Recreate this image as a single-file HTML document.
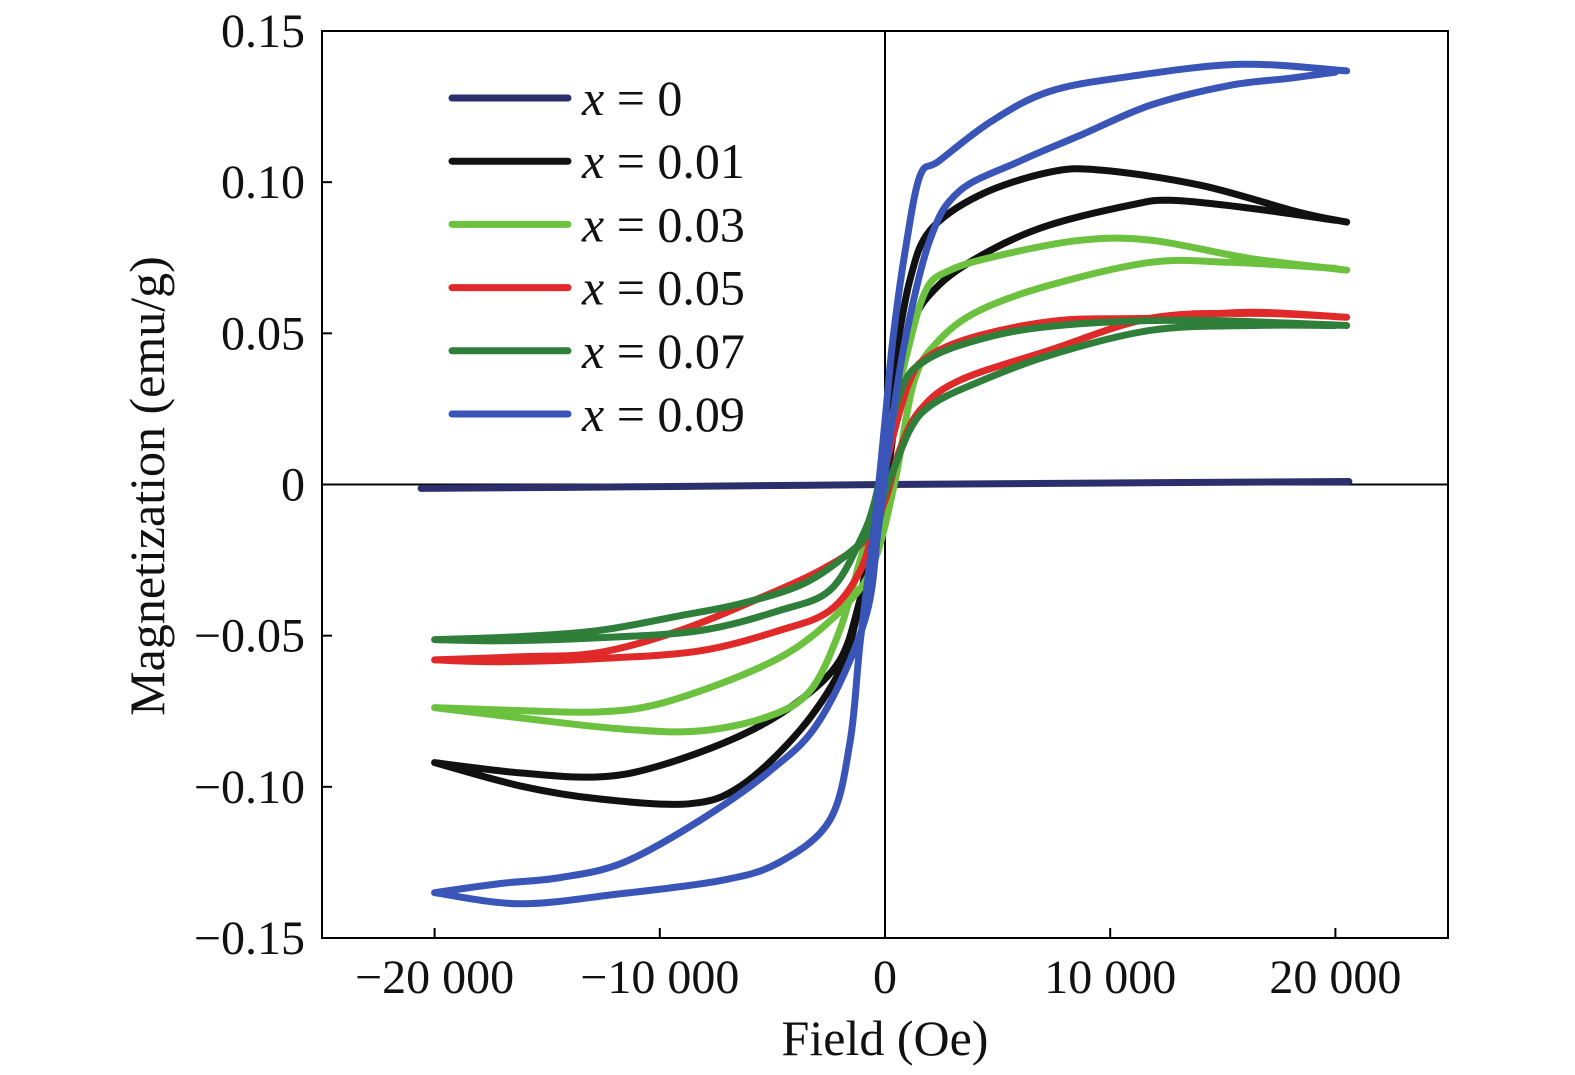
<!DOCTYPE html>
<html><head><meta charset="utf-8"><style>
body{margin:0;background:#fff;}
svg{display:block;font-family:"Liberation Serif",serif;}
</style></head><body>
<svg id="chart" width="1575" height="1075" viewBox="0 0 1575 1075" xmlns="http://www.w3.org/2000/svg">
<g id="axes"></g><g id="series"></g><g id="legend"></g>
</svg>
<script>
const xTicks=[-20000,-10000,0,10000,20000];
const xTickLabels=["\u221220 000","\u221210 000","0","10 000","20 000"];
const yTicks=[0.15,0.10,0.05,0,-0.05,-0.10,-0.15];
const yTickLabels=["0.15","0.10","0.05","0","\u22120.05","\u22120.10","\u22120.15"];
const seriesNames=["x = 0","x = 0.01","x = 0.03","x = 0.05","x = 0.07","x = 0.09"];
const seriesColors=["#2b2f6b","#111111","#6cc23f","#e02a2a","#2f7f3b","#3a55b8"];
// x=0
const h0=[-20600,-10000,0,10000,20600];
const m0=[-0.0013,-0.0007,0,0.0005,0.001];
// x=0.01
const h1u=[20500,18400,14000,9600,7300,4200,2000,1100,450,0,-650,-1300,-2000,-3800,-6400,-8700,-12700,-16200,-20000];
const m1u=[0.0868,0.090,0.099,0.104,0.1033,0.0957,0.084,0.0675,0.041,0.0146,-0.0185,-0.045,-0.0616,-0.0815,-0.0997,-0.1056,-0.104,-0.0997,-0.092];
const h1l=[-20000,-16200,-12700,-10000,-6400,-3800,-2000,-1100,-200,450,1100,2400,4700,7300,10900,12700,16200,20000];
const m1l=[-0.092,-0.0954,-0.0967,-0.093,-0.083,-0.0715,-0.058,-0.038,-0.012,0.021,0.051,0.066,0.0775,0.0858,0.0924,0.094,0.0914,0.0874];
// x=0.03
const h3u=[20500,16200,11800,8700,5100,2900,1800,900,200,-450,-1100,-2000,-3300,-5100,-8200,-11800,-16200,-20000];
const m3u=[0.0709,0.0748,0.0808,0.0808,0.0758,0.0709,0.064,0.041,0.018,-0.0086,-0.025,-0.048,-0.068,-0.0765,-0.0815,-0.0808,-0.0772,-0.0738];
const h3l=[-20000,-16200,-12700,-10000,-6400,-3800,-1550,-450,450,1300,2400,4200,7300,11800,15300,20000];
const m3l=[-0.0738,-0.0748,-0.0752,-0.0725,-0.0632,-0.0533,-0.0384,-0.025,0.0013,0.0344,0.0477,0.0576,0.0659,0.0735,0.0735,0.0715];
// x=0.05
const h5u=[20500,16200,11800,7800,4200,2000,1100,200,-450,-1100,-2450,-4700,-8200,-12700,-17100,-20000];
const m5u=[0.0553,0.057,0.055,0.0543,0.0493,0.0427,0.0344,0.0113,-0.012,-0.0285,-0.0417,-0.0483,-0.055,-0.0576,-0.0586,-0.058];
const h5l=[-20000,-16200,-12700,-9100,-5600,-2900,-900,0,650,1550,3300,7300,11800,16200,20000];
const m5l=[-0.058,-0.057,-0.0556,-0.0483,-0.0377,-0.0285,-0.0185,-0.0053,0.0113,0.0245,0.0344,0.0444,0.055,0.0566,0.0556];
// x=0.07
const h7u=[20500,14000,9600,6000,3300,1800,900,200,-450,-1100,-2450,-4700,-8200,-12700,-17100,-20000];
const m7u=[0.0526,0.0543,0.0536,0.051,0.046,0.041,0.0344,0.018,-0.0053,-0.0185,-0.035,-0.0417,-0.0483,-0.0507,-0.0517,-0.0513];
const h7l=[-20000,-16200,-12700,-9100,-6400,-3800,-2000,-650,200,1100,2000,3800,7300,11800,16200,20000];
const m7l=[-0.0513,-0.0503,-0.0483,-0.0434,-0.0394,-0.0334,-0.025,-0.0152,0.0013,0.018,0.026,0.0328,0.0427,0.051,0.0526,0.0526];
// x=0.09
const h9u=[20500,15800,10900,7300,4700,2400,1550,900,350,0,-450,-1100,-1550,-2450,-4700,-7300,-11800,-16200,-20000];
const m9u=[0.1368,0.139,0.135,0.130,0.120,0.107,0.102,0.0775,0.048,0.021,-0.012,-0.052,-0.085,-0.111,-0.125,-0.131,-0.1354,-0.1387,-0.135];
const h9l=[-20000,-17100,-14400,-11600,-8200,-5100,-2900,-900,-300,200,900,2000,3300,6000,8700,11800,15300,18000,20000];
const m9l=[-0.135,-0.132,-0.130,-0.125,-0.111,-0.0947,-0.078,-0.045,-0.015,0.0146,0.048,0.081,0.097,0.107,0.1156,0.1255,0.132,0.1344,0.1364];

const X0=322,X1=1448,Y0=31,Y1=938;
const xs=v=>X0+(v+25000)/50000*(X1-X0);
const ys=v=>Y1-(v+0.15)/0.30*(Y1-Y0);
const NS="http://www.w3.org/2000/svg";
function mk(tag,parent,attrs){const e=document.createElementNS(NS,tag);for(const k in attrs)e.setAttribute(k,attrs[k]);parent.appendChild(e);return e;}
const axes=document.getElementById('axes'),series=document.getElementById('series'),legend=document.getElementById('legend');

let e=mk('rect',axes,{x:X0,y:Y0,width:X1-X0,height:Y1-Y0,fill:'none',stroke:'#000','stroke-width':2});


e=mk('line',axes,{x1:xs(0),x2:xs(0),y1:Y0,y2:Y1,stroke:'#000','stroke-width':2});


e=mk('line',axes,{x1:X0,x2:X1,y1:ys(0),y2:ys(0),stroke:'#000','stroke-width':2});



xTicks.forEach((v,i)=>{
  let t=mk('line',axes,{x1:xs(v),x2:xs(v),y1:Y1,y2:Y1-10,stroke:'#000','stroke-width':2});
  
  
  let l=mk('text',axes,{x:xs(v),y:993,'text-anchor':'middle','font-size':48,fill:'#111'});
  l.textContent=xTickLabels[i];
  
  
});
yTicks.forEach((v,i)=>{
  let t=mk('line',axes,{x1:X0,x2:X0+10,y1:ys(v),y2:ys(v),stroke:'#000','stroke-width':2});
  
  
  let l=mk('text',axes,{x:305,y:ys(v)+16,'text-anchor':'end','font-size':48,fill:'#111'});
  l.textContent=yTickLabels[i];
  
  
});
e=mk('text',axes,{x:885,y:1055,'text-anchor':'middle','font-size':50,fill:'#111'});
e.textContent='Field (Oe)';


e=mk('text',axes,{x:0,y:0,'text-anchor':'middle','font-size':50,fill:'#111',transform:'translate(164,486) rotate(-90)'});
e.textContent='Magnetization (emu/g)';



function path(h,m){
  const p=h.map((v,i)=>[xs(v),ys(m[i])]);
  let d='M'+p[0][0].toFixed(1)+' '+p[0][1].toFixed(1);
  for(let i=0;i<p.length-1;i++){
    const a=p[Math.max(0,i-1)],b=p[i],c=p[i+1],n=p[Math.min(p.length-1,i+2)];
    const c1=[b[0]+(c[0]-a[0])/6,b[1]+(c[1]-a[1])/6],c2=[c[0]-(n[0]-b[0])/6,c[1]-(n[1]-b[1])/6];
    d+=' C'+c1[0].toFixed(1)+' '+c1[1].toFixed(1)+' '+c2[0].toFixed(1)+' '+c2[1].toFixed(1)+' '+c[0].toFixed(1)+' '+c[1].toFixed(1);
  }
  return d;
}
const loops=[[h0,m0,null,null],[h1u,m1u,h1l,m1l],[h3u,m3u,h3l,m3l],[h5u,m5u,h5l,m5l],[h7u,m7u,h7l,m7l],[h9u,m9u,h9l,m9l]];
loops.forEach((L,i)=>{
  let d=path(L[0],L[1]);
  if(L[2]) d+=' '+path(L[2],L[3]);
  let p=mk('path',series,{d:d,fill:'none',stroke:seriesColors[i],'stroke-width':7,'stroke-linejoin':'round','stroke-linecap':'round'});
  
  
});

seriesNames.forEach((n,i)=>{
  const y=98+i*63.2;
  let l=mk('line',legend,{x1:452,x2:568,y1:y,y2:y,stroke:seriesColors[i],'stroke-width':7,'stroke-linecap':'round'});
  
  
  let t=mk('text',legend,{x:582,y:y+17,'font-size':50,fill:'#111'});
  t.innerHTML='<tspan font-style="italic">x</tspan> = '+n.slice(4);
  
  
});
</script>
</body></html>
